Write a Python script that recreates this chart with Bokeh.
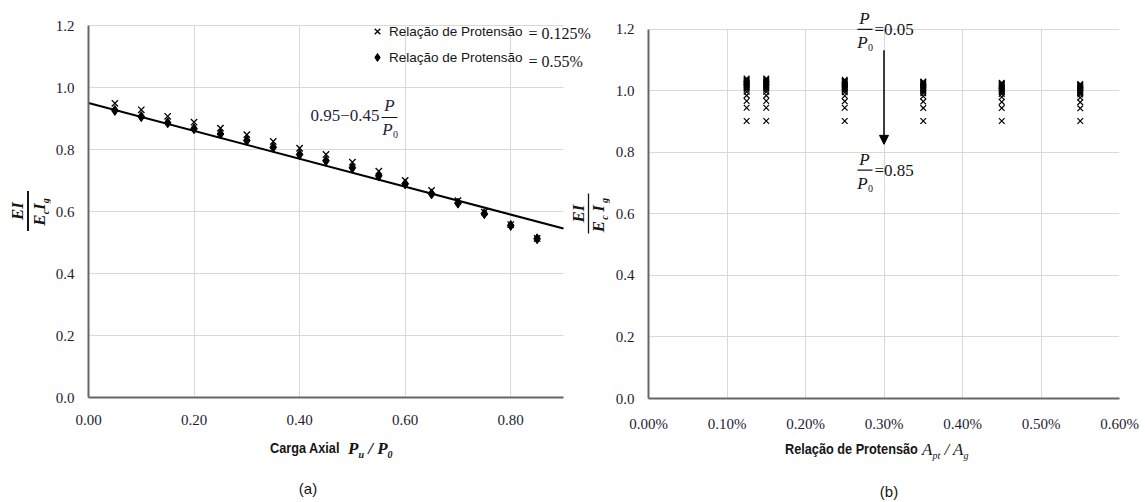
import math
from bokeh.plotting import figure
from bokeh.models import (Range1d, FixedTicker, PrintfTickFormatter, Label, Legend,
                          LegendItem, Arrow, NormalHead, ColumnDataSource, Div)
from bokeh.layouts import row, column
from bokeh.embed import file_html
from bokeh.resources import INLINE

# ---------------- data: chart (a) ----------------
load_ratio = [0.05, 0.10, 0.15, 0.20, 0.25, 0.30, 0.35, 0.40, 0.45,
              0.50, 0.55, 0.60, 0.65, 0.70, 0.75, 0.80, 0.85]
ei_ratio_0125 = [0.949, 0.928, 0.907, 0.888, 0.869, 0.848, 0.826, 0.804, 0.784,
                 0.759, 0.730, 0.700, 0.668, 0.635, 0.598, 0.558, 0.513]
ei_ratio_055 = [0.926, 0.906, 0.886, 0.867, 0.850, 0.829, 0.807, 0.784, 0.764,
                0.741, 0.715, 0.689, 0.657, 0.627, 0.593, 0.555, 0.512]
fit_x = [0.0, 0.90]
fit_y = [0.95, 0.545]
xticks_a = [0.0, 0.2, 0.4, 0.6, 0.8]
yticks = [0.0, 0.2, 0.4, 0.6, 0.8, 1.0, 1.2]

# ---------------- data: chart (b) ----------------
prestress_ratio = [0.125, 0.15, 0.25, 0.35, 0.45, 0.55]   # Apt/Ag in %
ei_pt_0125 = [1.040, 1.037, 1.034, 1.031, 1.028, 1.025, 1.022, 1.019, 1.016,
              1.013, 1.009, 1.004, 0.997, 0.985, 0.967, 0.945, 0.902]
ei_pt_015 = [1.040, 1.037, 1.034, 1.031, 1.028, 1.025, 1.022, 1.019, 1.016,
             1.013, 1.009, 1.004, 0.997, 0.985, 0.967, 0.945, 0.902]
ei_pt_025 = [1.036, 1.033, 1.030, 1.027, 1.024, 1.021, 1.018, 1.015, 1.012,
             1.009, 1.006, 1.002, 0.995, 0.984, 0.966, 0.945, 0.902]
ei_pt_035 = [1.030, 1.028, 1.025, 1.022, 1.020, 1.017, 1.014, 1.011, 1.008,
             1.005, 1.002, 0.998, 0.992, 0.982, 0.965, 0.944, 0.902]
ei_pt_045 = [1.026, 1.024, 1.021, 1.019, 1.016, 1.014, 1.011, 1.008, 1.005,
             1.002, 0.999, 0.995, 0.990, 0.980, 0.964, 0.944, 0.902]
ei_pt_055 = [1.022, 1.020, 1.018, 1.015, 1.013, 1.010, 1.008, 1.005, 1.002,
             0.999, 0.996, 0.993, 0.988, 0.978, 0.963, 0.943, 0.902]
xticks_b = [0.0, 0.1, 0.2, 0.3, 0.4, 0.5, 0.6]
arrow_x = 0.30
arrow_from = 1.132
arrow_to = 0.826

SERIF = "Liberation Serif"
SANS = "Liberation Sans"
TXT = "#151515"
TICK = "#1c1c30"
GRID = "#d9d9d9"
AXIS = "#666666"


def style(p, xt, yt, xfmt, xb, yb, xso, yso):
    p.outline_line_color = None
    p.background_fill_color = "white"
    p.border_fill_color = "white"
    for a, t, fmt, so, bnd in ((p.xaxis[0], xt, xfmt, xso, xb), (p.yaxis[0], yt, "%.1f", yso, yb)):
        a.ticker = FixedTicker(ticks=t)
        a.formatter = PrintfTickFormatter(format=fmt)
        a.bounds = bnd
        a.axis_line_color = AXIS
        a.axis_line_width = 2
        a.major_tick_line_color = None
        a.minor_tick_line_color = None
        a.major_tick_out = 0
        a.major_tick_in = 0
        a.major_label_standoff = so
        a.major_label_text_font = SERIF
        a.major_label_text_font_size = "15px"
        a.major_label_text_color = TICK
    gx, gy = p.xgrid[0], p.ygrid[0]
    gx.ticker = FixedTicker(ticks=t_nonzero(xt))
    gy.ticker = FixedTicker(ticks=t_nonzero(yt))
    gx.bounds = xb
    gy.bounds = yb
    gx.cross_bounds = yb
    gy.cross_bounds = xb
    for g in (gx, gy):
        g.grid_line_color = GRID
        g.grid_line_width = 1


def t_nonzero(ticks):
    return [t for t in ticks if t != 0]


def txt(p, x, y, s, size, font=SERIF, fstyle="normal", align="left", angle=0.0, color=TXT):
    p.add_layout(Label(x=x, y=y, text=s, text_font=font, text_font_size=f"{size}px",
                       text_font_style=fstyle, text_align=align, text_baseline="middle",
                       angle=angle, text_color=color))


def bar(p, x0, y0, x1, y1, w=1.2):
    p.add_layout(Arrow(end=None, x_start=x0, y_start=y0, x_end=x1, y_end=y1,
                       line_width=w, line_color=TXT))


# page-pixel -> data helpers (placement of annotations only)
def ax(px): return (px - 88) * 0.9 / 475
def ay(py): return (397 - py) * 1.2 / 372
def bx(px): return (px - 648) * 0.6 / 471
def by(py): return (401 - py) * 1.2 / 372


def span(left, top, html, css, center=False):
    tr = "transform:translateX(-50%);" if center else ""
    return (f'<span style="position:absolute;left:{left}px;top:{top}px;line-height:20px;'
            f'white-space:nowrap;color:{TXT};{tr}{css}">{html}</span>')


def box(w, h, inner):
    return Div(text=f'<div style="position:relative;width:{w}px;height:{h}px;">{inner}</div>',
               width=w, height=h, margin=0)


SUB = 'style="font-size:10px;vertical-align:-4px;line-height:0"'
NARROW_CSS = ("display:inline-block;transform:scaleX(0.82);transform-origin:0 50%;"
              f"font:bold 15.5px '{SANS}'")

# ================= chart (a) =================
LEFT_W = 610
pa = figure(width=LEFT_W - 50, height=430,
            x_range=Range1d(0, (LEFT_W - 88) * 0.9 / 475),
            y_range=Range1d(0, 397 * 1.2 / 372),
            output_backend="svg", toolbar_location=None,
            min_border_left=38, min_border_right=0, min_border_top=0, min_border_bottom=33)
style(pa, xticks_a, yticks, "%.2f", (0, 0.9), (0, 1.2), 17, 14)

pa.line(fit_x, fit_y, line_color="black", line_width=2)
src_d = ColumnDataSource(dict(x=load_ratio, y=ei_ratio_055))
src_x = ColumnDataSource(dict(x=load_ratio, y=ei_ratio_0125))
r_d = pa.scatter("x", "y", source=src_d, marker="diamond", size=10,
                 fill_color="black", line_color="black", line_width=1)
r_x = pa.scatter("x", "y", source=src_x, marker="x", size=9,
                 line_color="black", line_width=1.3)

leg = Legend(items=[LegendItem(label="Relação de Protensão", renderers=[r_x]),
                    LegendItem(label="Relação de Protensão", renderers=[r_d])],
             location=(279, 330), orientation="vertical", padding=0, margin=0,
             spacing=6, glyph_width=20, glyph_height=20, label_standoff=2,
             label_text_font=SANS, label_text_font_size="13.5px",
             label_text_color=TXT, border_line_color=None, background_fill_alpha=0)
pa.add_layout(leg)

txt(pa, ax(528), ay(33), "= 0.125%", 16)
txt(pa, ax(528), ay(61), "= 0.55%", 16)

# fitted-line formula  0.95 - 0.45 P/P0
FC = "#1f1f3d"
txt(pa, ax(310), ay(115), "0.95−0.45", 17, color=FC)
txt(pa, ax(389), ay(105), "P", 17, fstyle="italic", align="center", color=FC)
bar(pa, ax(381), ay(117), ax(397), ay(117))
txt(pa, ax(387), ay(129), "P", 17, fstyle="italic", align="center", color=FC)
txt(pa, ax(395), ay(134), "0", 10, align="center", color=FC)

# y-axis title of chart (b):  EI / (Ec Ig)  (sits in the gap left of chart b)
R = math.pi / 2
dx, dy = 560, 2
txt(pa, ax(17.5 + dx), ay(211 + dy), "EI", 17, fstyle="bold italic", align="center", angle=R)
bar(pa, ax(28 + dx), ay(191 + dy), ax(28 + dx), ay(231 + dy), w=1.3)
txt(pa, ax(38 + dx), ay(224 + dy), "E", 17, fstyle="bold italic", align="center", angle=R)
txt(pa, ax(44 + dx), ay(215 + dy), "c", 10, fstyle="bold italic", align="center", angle=R)
txt(pa, ax(38 + dx), ay(206 + dy), "I", 17, fstyle="bold italic", align="center", angle=R)
txt(pa, ax(44 + dx), ay(198 + dy), "g", 10, fstyle="bold italic", align="center", angle=R)

# y-axis title of chart (a) as HTML
ROT = "transform:translate(-50%,-50%) rotate(-90deg);"
ya_html = (
    f'<span style="position:absolute;left:17.5px;top:211px;line-height:20px;white-space:nowrap;'
    f'color:{TXT};{ROT}font:bold italic 17px \'{SERIF}\'">EI</span>'
    f'<div style="position:absolute;left:27.3px;top:191px;width:1.4px;height:40px;background:{TXT}"></div>'
    f'<span style="position:absolute;left:39.5px;top:212px;line-height:20px;white-space:nowrap;'
    f'color:{TXT};{ROT}font:bold italic 17px \'{SERIF}\'">E<sub {SUB}>c</sub>I<sub {SUB}>g</sub></span>'
)
div_ya = box(50, 430, ya_html)

xa_html = (span(270, 9, "Carga Axial", NARROW_CSS)
           + span(348, 9, f"P<sub {SUB}>u</sub> / P<sub {SUB}>0</sub>",
                  f"font:bold italic 17px '{SERIF}'"))
div_xa = box(LEFT_W, 36, xa_html)
div_a = box(LEFT_W, 36, span(308, 14, "(a)", f"font:15px '{SANS}'", center=True))

# ================= chart (b) =================
RIGHT_W = 1145 - LEFT_W
pb = figure(width=RIGHT_W, height=434, x_range=Range1d(0, 0.6),
            y_range=Range1d(0, 401 * 1.2 / 372),
            output_backend="svg", toolbar_location=None,
            min_border_left=648 - LEFT_W, min_border_right=RIGHT_W - (648 - LEFT_W) - 471,
            min_border_top=0, min_border_bottom=33)
style(pb, xticks_b, yticks, "%.2f%%", (0, 0.6), (0, 1.2), 17, 14)

cols_b = [ei_pt_0125, ei_pt_015, ei_pt_025, ei_pt_035, ei_pt_045, ei_pt_055]
xs_b = [r for r, c in zip(prestress_ratio, cols_b) for _ in c]
ys_b = [v for c in cols_b for v in c]
pb.scatter(xs_b, ys_b, marker="x", size=8, line_color="black", line_width=1.2)

pb.add_layout(Arrow(end=NormalHead(size=9, fill_color="black", line_color="black"),
                    x_start=arrow_x, y_start=arrow_from, x_end=arrow_x, y_end=arrow_to,
                    line_width=1.5, line_color="black"))

for py0, val in ((18, "=0.05"), (160, "=0.85")):
    txt(pb, bx(864), by(py0), "P", 17, fstyle="italic", align="center")
    bar(pb, bx(857), by(py0 + 11), bx(872), by(py0 + 11))
    txt(pb, bx(862), by(py0 + 24), "P", 17, fstyle="italic", align="center")
    txt(pb, bx(870), by(py0 + 29), "0", 10, align="center")
    txt(pb, bx(874), by(py0 + 11), val, 17)

xb_html = (span(785 - LEFT_W, 6, "Relação de Protensão", NARROW_CSS)
           + span(922 - LEFT_W, 6, f"A<sub {SUB}>pt</sub> / A<sub {SUB}>g</sub>",
                  f"font:italic 17px '{SERIF}'"))
div_xb = box(RIGHT_W, 32, xb_html)
div_b = box(RIGHT_W, 36, span(889 - LEFT_W, 17, "(b)", f"font:15px '{SANS}'", center=True))

layout = row(column(row(div_ya, pa), div_xa, div_a),
             column(pb, div_xb, div_b))
open("out.html", "w").write(file_html(layout, INLINE))
